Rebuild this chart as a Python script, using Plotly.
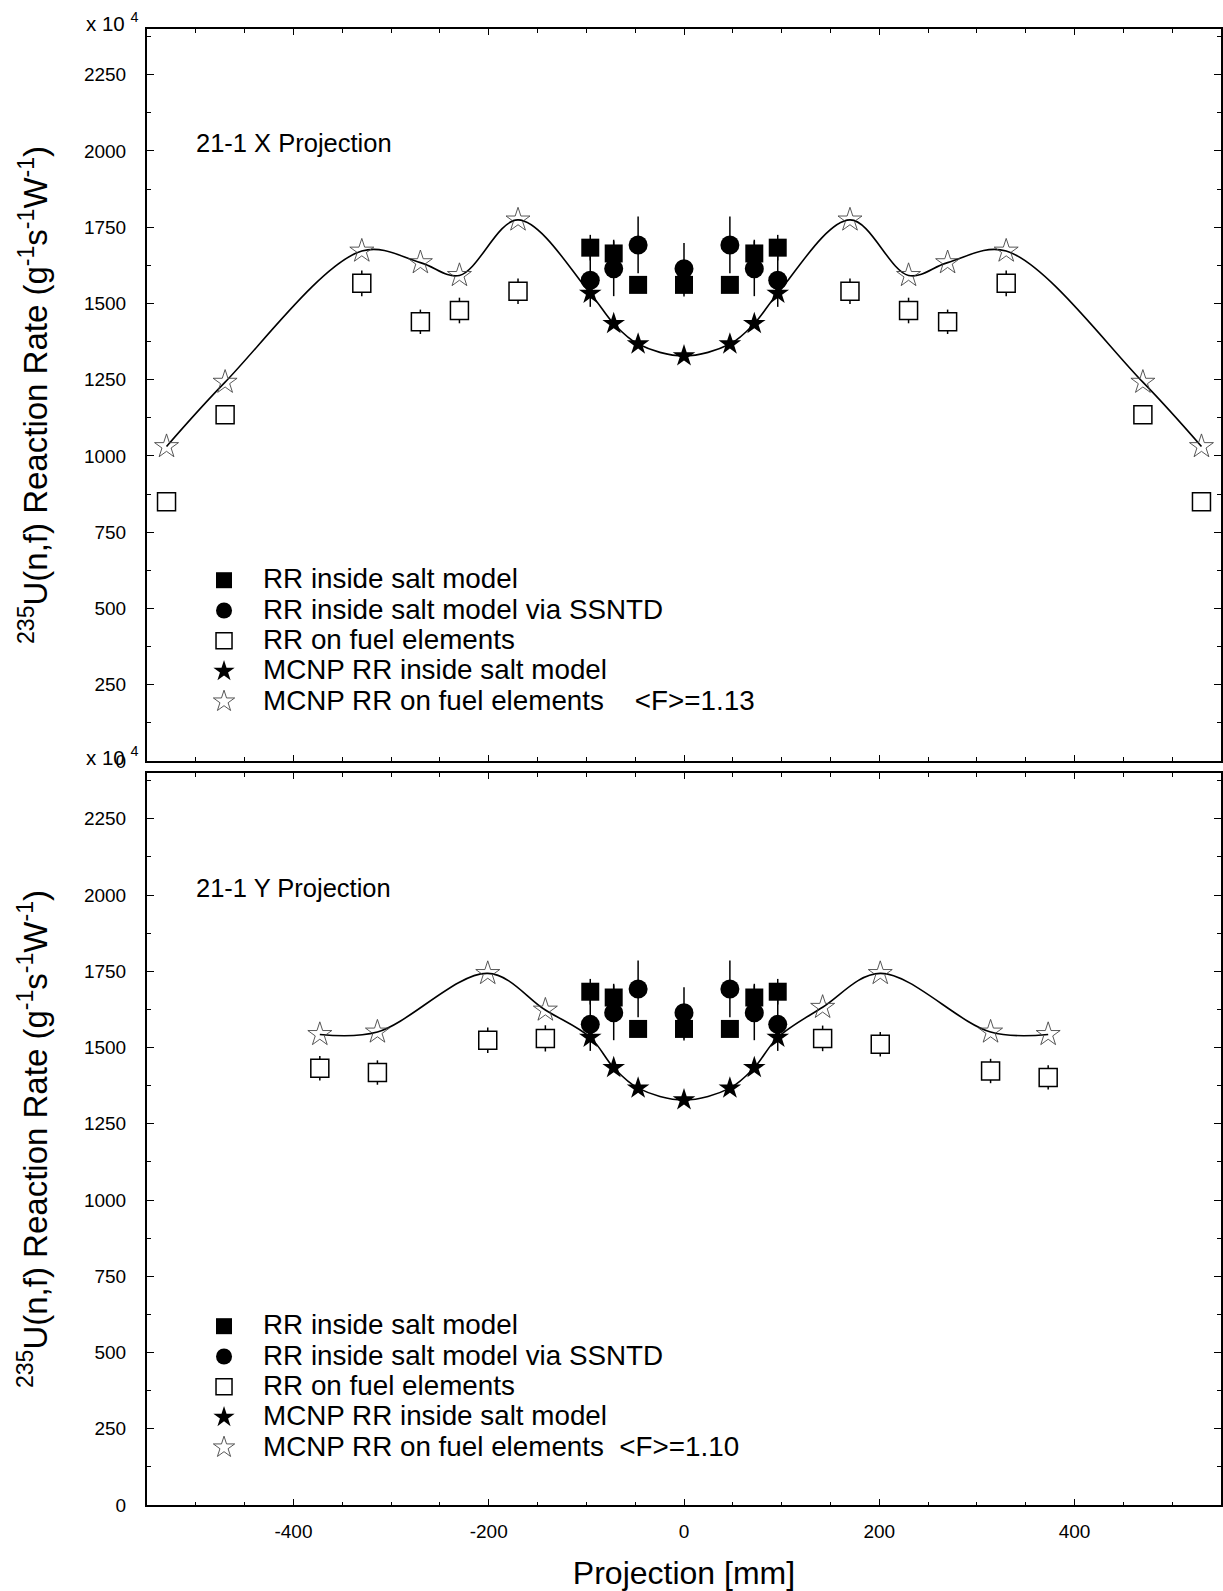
import numpy as np
import plotly.graph_objects as go

# ---- Salt-model positions (identical in both projections) ----
salt_x = [-96, -72, -47, 0, 47, 72, 96]
salt_rr = [1683, 1664, 1561, 1561, 1561, 1664, 1683]
salt_rr_err = [42, 45, 20, 38, 20, 45, 42]
ssntd_rr = [1576, 1614, 1692, 1614, 1692, 1614, 1576]
ssntd_rr_err = [87, 90, 93, 84, 93, 90, 87]
mcnp_salt_rr = [1533, 1434, 1367, 1328, 1367, 1434, 1533]

# ---- X projection: fuel elements ----
xproj_fuel_x = [-530, -470, -330, -270, -230, -170, 170, 230, 270, 330, 470, 530]
xproj_fuel_rr = [850, 1135, 1566, 1440, 1477, 1540, 1540, 1477, 1440, 1566, 1135, 850]
xproj_fuel_err = [15, 15, 42, 40, 42, 42, 42, 42, 40, 42, 15, 15]
xproj_mcnp_fuel_rr = [1031, 1242, 1672, 1634, 1592, 1774, 1774, 1592, 1634, 1672, 1242, 1031]

# ---- Y projection: fuel elements ----
yproj_fuel_x = [-373, -314, -201, -142, 142, 201, 314, 373]
yproj_fuel_rr = [1432, 1418, 1524, 1530, 1530, 1511, 1423, 1402]
yproj_fuel_err = [40, 40, 42, 43, 42, 40, 40, 40]
yproj_mcnp_fuel_rr = [1543, 1551, 1743, 1623, 1632, 1743, 1551, 1543]

panel_labels = ["21-1 X Projection", "21-1 Y Projection"]
f_labels = ["    &lt;F&gt;=1.13", "  &lt;F&gt;=1.10"]

x_tick_vals = [-400, -200, 0, 200, 400]
x_tick_text = ["-400", "-200", "0", "200", "400"]

FONT = "Liberation Sans, Arial, Helvetica, sans-serif"
LEG_SIZE = 27.8

fig = go.Figure()


def leg(text):
    return '<span style="font-size:%spx">%s</span>' % (LEG_SIZE, text)


def add_panel(fuel_x, fuel_rr, fuel_err, mcnp_fuel_rr, f_text, xa, ya, legend):
    # smooth MCNP curve through all calculated points, sorted along the projection
    all_x = np.array(list(fuel_x) + list(salt_x))
    all_y = np.array(list(mcnp_fuel_rr) + list(mcnp_salt_rr))
    order = np.argsort(all_x)
    fig.add_trace(go.Scatter(
        x=all_x[order], y=all_y[order], mode="lines",
        line=dict(color="black", width=1.6, shape="spline", smoothing=1.0),
        showlegend=False, hoverinfo="skip", xaxis=xa, yaxis=ya))

    err = dict(type="data", color="black", thickness=1.5, width=0)
    fig.add_trace(go.Scatter(
        x=salt_x, y=salt_rr, mode="markers", name=leg("RR inside salt model"),
        marker=dict(symbol="square", size=18, color="black"),
        error_y=dict(err, array=salt_rr_err),
        xaxis=xa, yaxis=ya, legend=legend))
    fig.add_trace(go.Scatter(
        x=salt_x, y=ssntd_rr, mode="markers",
        name=leg("RR inside salt model via SSNTD"),
        marker=dict(symbol="circle", size=19, color="black"),
        error_y=dict(err, array=ssntd_rr_err),
        xaxis=xa, yaxis=ya, legend=legend))
    fig.add_trace(go.Scatter(
        x=fuel_x, y=fuel_rr, mode="markers", name=leg("RR on fuel elements"),
        marker=dict(symbol="square", size=18, color="white",
                    line=dict(color="black", width=1.5)),
        error_y=dict(err, array=fuel_err),
        xaxis=xa, yaxis=ya, legend=legend))
    fig.add_trace(go.Scatter(
        x=salt_x, y=mcnp_salt_rr, mode="markers",
        name=leg("MCNP RR inside salt model"),
        marker=dict(symbol="star", size=17, color="black"),
        xaxis=xa, yaxis=ya, legend=legend))
    fig.add_trace(go.Scatter(
        x=fuel_x, y=mcnp_fuel_rr, mode="markers",
        name=leg("MCNP RR on fuel elements" + f_text),
        marker=dict(symbol="star-open", size=18, color="#444",
                    line=dict(color="#444", width=0.9)),
        xaxis=xa, yaxis=ya, legend=legend))


add_panel(xproj_fuel_x, xproj_fuel_rr, xproj_fuel_err, xproj_mcnp_fuel_rr,
          f_labels[0], "x", "y", "legend")
add_panel(yproj_fuel_x, yproj_fuel_rr, yproj_fuel_err, yproj_mcnp_fuel_rr,
          f_labels[1], "x2", "y2", "legend2")

ytitle = ("<sup>235</sup>U(n,f) Reaction Rate "
          "(g<sup>-1</sup>s<sup>-1</sup>W<sup>-1</sup>)")

xcommon = dict(range=[-550, 550], tickmode="array", tickvals=x_tick_vals,
               ticktext=x_tick_text, ticks="inside", ticklen=6,
               tickwidth=1.2, tickcolor="black", showline=True, linewidth=2,
               linecolor="black", mirror="ticks", showgrid=False, zeroline=False,
               minor=dict(tick0=0, dtick=50, ticks="inside", ticklen=3.5,
                          tickwidth=1.2, tickcolor="black", showgrid=False),
               tickfont=dict(family=FONT, size=19, color="black"))
ycommon = dict(range=[0, 2400], tick0=0, dtick=250, ticks="inside", ticklen=7,
               tickwidth=1.2, tickcolor="black", showline=True, linewidth=2,
               linecolor="black", mirror="ticks", showgrid=False, zeroline=False,
               minor=dict(dtick=125, ticks="inside", ticklen=4, tickwidth=1.2,
                          tickcolor="black", showgrid=False),
               tickfont=dict(family=FONT, size=19, color="black"),
               ticklabelstandoff=15,
               title=dict(text=ytitle, font=dict(family=FONT, size=33, color="black"),
                          standoff=26),
               automargin=False)

leg_common = dict(xanchor="left", yanchor="top", bgcolor="rgba(0,0,0,0)",
                  font=dict(family=FONT, size=21, color="black"),
                  itemwidth=68, tracegroupgap=0, traceorder="normal")

fig.update_layout(
    width=1223, height=1591,
    margin=dict(l=147, r=2, t=29, b=86),
    paper_bgcolor="white", plot_bgcolor="white",
    font=dict(family=FONT, color="black"),
    xaxis=dict(xcommon, anchor="y", domain=[0, 1], showticklabels=False),
    yaxis=dict(ycommon, anchor="x", domain=[0.5041, 1]),
    xaxis2=dict(xcommon, anchor="y2", domain=[0, 1], ticklabelstandoff=8,
                title=dict(text="Projection [mm]",
                           font=dict(family=FONT, size=32, color="black"),
                           standoff=21),
                automargin=False),
    yaxis2=dict(ycommon, anchor="x2", domain=[0, 0.4959]),
    legend=dict(leg_common, x=0.0354, y=0.6402),
    legend2=dict(leg_common, x=0.0354, y=0.1348),
)

# panel labels and axis multiplier labels
for label, ypos in zip(panel_labels, [0.9228, 0.418]):
    fig.add_annotation(text=label, xref="paper", yref="paper", x=0.0438, y=ypos,
                       xanchor="left", yanchor="middle", showarrow=False,
                       font=dict(family=FONT, size=25.5, color="black"))
for ypos in [1.0047, 0.5075]:
    fig.add_annotation(text="x 10 <sup>4</sup>", xref="paper", yref="paper",
                       x=-0.0325, y=ypos, xanchor="center", yanchor="middle",
                       showarrow=False, font=dict(family=FONT, size=20.5, color="black"))

fig.write_html("out.html")
